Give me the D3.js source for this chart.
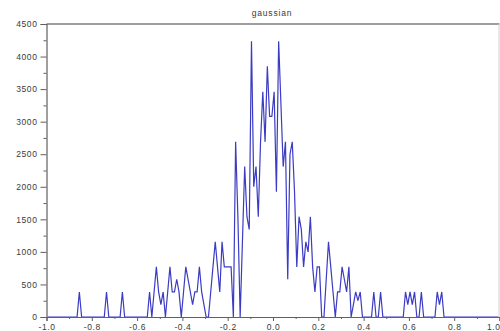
<!DOCTYPE html>
<html>
<head>
<meta charset="utf-8">
<script src="https://cdn.jsdelivr.net/npm/d3@7"></script>
<style>
  html, body { margin: 0; padding: 0; background: #fff; }
  svg { display: block; }
  text { font-family: "Liberation Sans", Arial, sans-serif; }
</style>
</head>
<body>
<svg id="chart" width="500" height="331"></svg>
<script>
// ---- data ----
const title = "gaussian";
const binStart = -0.995;   // centre of first bin
const binWidth = 0.01;
const counts = [
  0,0,0,0,0,0,0,0,0,0,            // 0-9
  0,0,0,0,385,0,0,0,0,0,          // 10-19
  0,0,0,0,0,0,385,0,0,0,          // 20-29
  0,0,0,385,0,0,0,0,0,0,          // 30-39
  0,0,0,0,0,385,0,385,770,385,    // 40-49
  190,385,0,385,770,385,385,580,385,0, // 50-59
  385,770,580,385,190,385,385,770,385,190, // 60-69
  0,0,385,770,1155,770,385,1155,770,770,   // 70-79
  770,770,0,2690,1540,0,1155,2310,1540,1345, // 80-89
  4235,2000,2310,1540,2690,3460,2690,3850,3080,3080, // 90-99
  3460,1925,4235,3270,2310,2690,580,2500,2690,1925, // 100-109
  770,1540,1345,770,1155,1000,1540,770,385,770,     // 110-119
  770,0,0,580,1155,770,385,0,385,385,               // 120-129
  770,580,385,770,0,190,385,250,385,0,              // 130-139
  0,0,0,0,385,0,0,385,0,0,                          // 140-149
  0,0,0,0,0,0,0,0,385,190,                          // 150-159
  385,190,385,0,0,385,0,0,0,0,                      // 160-169
  0,0,385,190,385,0,0,0,0,0,                        // 170-179
  0,0,0,0,0,0,0,0,0,0,                              // 180-189
  0,0,0,0,0,0,0,0,0,0                               // 190-199
];
const xTickValues = [-1.0,-0.8,-0.6,-0.4,-0.2,0.0,0.2,0.4,0.6,0.8,1.0];
const xTickLabels = ["-1.0","-0.8","-0.6","-0.4","-0.2","0.0","0.2","0.4","0.6","0.8","1.0"];
const xMinorTicks = [-0.9,-0.7,-0.5,-0.3,-0.1,0.1,0.3,0.5,0.7,0.9];
const yTickValues = [0,500,1000,1500,2000,2500,3000,3500,4000,4500];
const yTickLabels = ["0","500","1000","1500","2000","2500","3000","3500","4000","4500"];
const yMinorTicks = [250,750,1250,1750,2250,2750,3250,3750,4250];

// ---- layout ----
const svg = d3.select("#chart");
const mLeft = 46.5, mRight = 499.5, mTop = 24, mBottom = 317;

const x = d3.scaleLinear().domain([-1, 1]).range([mLeft, mRight]);
const y = d3.scaleLinear().domain([0, 4500]).range([mBottom, mTop]);

const points = counts.map((c, i) => ({ x: binStart + i * binWidth, y: c }));

// frame (top and right)
svg.append("line").attr("x1", mLeft).attr("x2", mRight).attr("y1", mTop).attr("y2", mTop)
  .attr("stroke", "#7e7e7e").attr("stroke-width", 1.6);
svg.append("line").attr("x1", 499).attr("x2", 499).attr("y1", mTop).attr("y2", mBottom)
  .attr("stroke", "#d0d0d0").attr("stroke-width", 1);

// data line
const line = d3.line().x(d => x(d.x)).y(d => y(d.y));
svg.append("path").datum(points)
  .attr("d", line)
  .attr("fill", "none")
  .attr("stroke", "#3b3bc4")
  .attr("stroke-width", 1.2)
  .attr("stroke-linejoin", "miter");

// axes
const axisColor = "#606060";
const labelColor = "#3a3a3a";

const yAxis = svg.append("g").attr("transform", `translate(${mLeft},0)`)
  .call(d3.axisLeft(y).tickValues(yTickValues)
    .tickFormat((d, i) => yTickLabels[i]).tickSize(6).tickPadding(3));
const yMinor = svg.append("g").attr("transform", `translate(${mLeft},0)`)
  .call(d3.axisLeft(y).tickValues(yMinorTicks).tickFormat("").tickSize(3));

const xAxis = svg.append("g").attr("transform", `translate(0,${mBottom})`)
  .call(d3.axisBottom(x).tickValues(xTickValues)
    .tickFormat((d, i) => xTickLabels[i]).tickSize(4).tickPadding(3));
const xMinor = svg.append("g").attr("transform", `translate(0,${mBottom})`)
  .call(d3.axisBottom(x).tickValues(xMinorTicks).tickFormat("").tickSize(2));

[yAxis, yMinor, xAxis, xMinor].forEach(g => {
  g.select(".domain").attr("stroke", axisColor).attr("stroke-width", 1.2);
  g.selectAll(".tick line").attr("stroke", axisColor);
  g.selectAll("text").attr("fill", labelColor)
    .style("font-size", "8.5px").style("letter-spacing", "0.6px");
});
yMinor.select(".domain").remove();
xMinor.select(".domain").remove();

// keep the last x label inside the picture
xAxis.selectAll(".tick").filter(d => d === 1.0).select("text")
  .attr("text-anchor", "end").attr("x", 0.5);

// title
svg.append("text")
  .attr("x", 272).attr("y", 16)
  .attr("text-anchor", "middle")
  .attr("fill", labelColor)
  .style("font-size", "8.5px")
  .style("letter-spacing", "0.8px")
  .text(title);
</script>
</body>
</html>
